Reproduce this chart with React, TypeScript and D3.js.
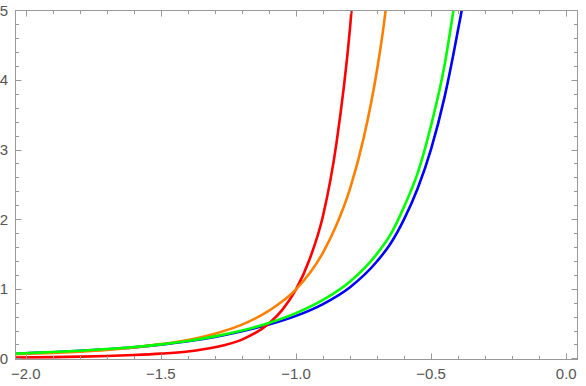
import React from "react";
import * as d3 from "d3";

const W = 586;
const H = 386;

const xTicksMajor = [-2.0, -1.5, -1.0, -0.5, 0.0];
const yTicksMajor = [0, 1, 2, 3, 4, 5];

const redX = [-2.04, -1.9, -1.8, -1.7, -1.6, -1.5, -1.4, -1.3, -1.2, -1.1, -1.05, -1.0, -0.95, -0.9, -0.85, -0.8, -0.78];
const redY = [0.012, 0.018, 0.025, 0.034, 0.048, 0.068, 0.1, 0.16, 0.27, 0.5, 0.7, 0.99, 1.42, 2.05, 3.1, 4.75, 5.7];

const orangeX = [-2.04, -1.9, -1.8, -1.7, -1.6, -1.5, -1.4, -1.3, -1.2, -1.1, -1.0, -0.9, -0.85, -0.8, -0.75, -0.7, -0.67, -0.66];
const orangeY = [0.06, 0.078, 0.097, 0.122, 0.157, 0.205, 0.265, 0.355, 0.485, 0.685, 0.99, 1.52, 1.92, 2.44, 3.16, 4.15, 4.95, 5.3];

const greenX = [-2.04, -2.0, -1.9, -1.8, -1.7, -1.6, -1.5, -1.4, -1.3, -1.2, -1.1, -1.0, -0.9, -0.8, -0.7, -0.65, -0.6, -0.55, -0.5, -0.45, -0.42, -0.41];
const greenY = [0.069, 0.075, 0.091, 0.11, 0.134, 0.163, 0.202, 0.251, 0.316, 0.4, 0.509, 0.65, 0.839, 1.104, 1.505, 1.78, 2.18, 2.66, 3.35, 4.22, 4.94, 5.2];

const blueX = [-2.04, -2.0, -1.9, -1.8, -1.7, -1.6, -1.5, -1.4, -1.3, -1.2, -1.1, -1.0, -0.9, -0.8, -0.7, -0.65, -0.6, -0.55, -0.5, -0.45, -0.4, -0.385, -0.375];
const blueY = [0.068, 0.074, 0.089, 0.108, 0.131, 0.159, 0.198, 0.246, 0.309, 0.39, 0.486, 0.611, 0.781, 1.023, 1.395, 1.65, 2.0, 2.44, 3.01, 3.76, 4.73, 5.05, 5.35];

const series = [
  { name: "blue", xs: blueX, ys: blueY, color: "#0000ff" },
  { name: "red", xs: redX, ys: redY, color: "#ff0000" },
  { name: "orange", xs: orangeX, ys: orangeY, color: "#ff8000" },
  { name: "green", xs: greenX, ys: greenY, color: "#00ff00" },
];

export default function App() {
  const x = d3.scaleLinear().domain([-2, 0]).range([25.7, 566.3]);
  const y = d3.scaleLinear().domain([0, 5]).range([358.4, 10.3]);

  const left = 15.5;
  const right = 577.5;
  const top = 10.5;
  const bottom = 359.5;

  const frameColor = "#999999";
  const labelColor = "#555555";

  const xMinor = d3.range(-20, 1).map((i) => i / 10);
  const yMinor = d3.range(0, 26).map((i) => i / 5);

  const line = d3
    .line<[number, number]>()
    .x((d) => x(d[0]))
    .y((d) => y(d[1]))
    .curve(d3.curveMonotoneX);

  const isMajorX = (v: number) => xTicksMajor.some((m) => Math.abs(m - v) < 1e-6);
  const isMajorY = (v: number) => yTicksMajor.some((m) => Math.abs(m - v) < 1e-6);

  const fmtX = (v: number) => {
    const s = v.toFixed(1);
    return s.startsWith("-") ? "\u2212" + s.slice(1) : s === "-0.0" ? "0.0" : s;
  };

  return (
    <svg
      width={W}
      height={H}
      style={{ position: "absolute", left: 0, top: 0, background: "#fff" }}
      fontFamily="'Liberation Sans', Arial, sans-serif"
    >
      <defs>
        <clipPath id="plotclip">
          <rect x={left} y={top - 0.5} width={right - left} height={bottom - top + 0.5} />
        </clipPath>
      </defs>

      <g clipPath="url(#plotclip)">
        {series.map((s) => (
          <path
            key={s.name}
            d={line(s.xs.map((v, i) => [v, s.ys[i]] as [number, number])) || ""}
            fill="none"
            stroke={s.color}
            strokeWidth={2.6}
            strokeLinejoin="round"
          />
        ))}
      </g>

      {/* ticks */}
      <g stroke={frameColor} strokeWidth={1}>
        {xMinor.map((v) => {
          const len = isMajorX(v) ? 6 : 3.5;
          const px = Math.round(x(v)) + 0.5;
          return (
            <g key={"xt" + v}>
              <line x1={px} x2={px} y1={bottom} y2={bottom - len} />
              <line x1={px} x2={px} y1={top} y2={top + len} />
            </g>
          );
        })}
        {yMinor.map((v) => {
          const len = isMajorY(v) ? 6 : 3.5;
          const py = Math.round(y(v)) + 0.5;
          return (
            <g key={"yt" + v}>
              <line x1={left} x2={left + len} y1={py} y2={py} />
              <line x1={right} x2={right - len} y1={py} y2={py} />
            </g>
          );
        })}
      </g>

      {/* frame */}
      <rect
        x={left}
        y={top}
        width={right - left}
        height={bottom - top}
        fill="none"
        stroke={frameColor}
        strokeWidth={1}
      />

      {/* labels */}
      <g fill={labelColor} fontSize={15}>
        {xTicksMajor.map((v) => (
          <text key={"xl" + v} x={x(v)} y={379} textAnchor="middle">
            {fmtX(v)}
          </text>
        ))}
        {yTicksMajor.map((v) => (
          <text key={"yl" + v} x={8} y={y(v)} textAnchor="end" dominantBaseline="central">
            {String(v)}
          </text>
        ))}
      </g>
    </svg>
  );
}
